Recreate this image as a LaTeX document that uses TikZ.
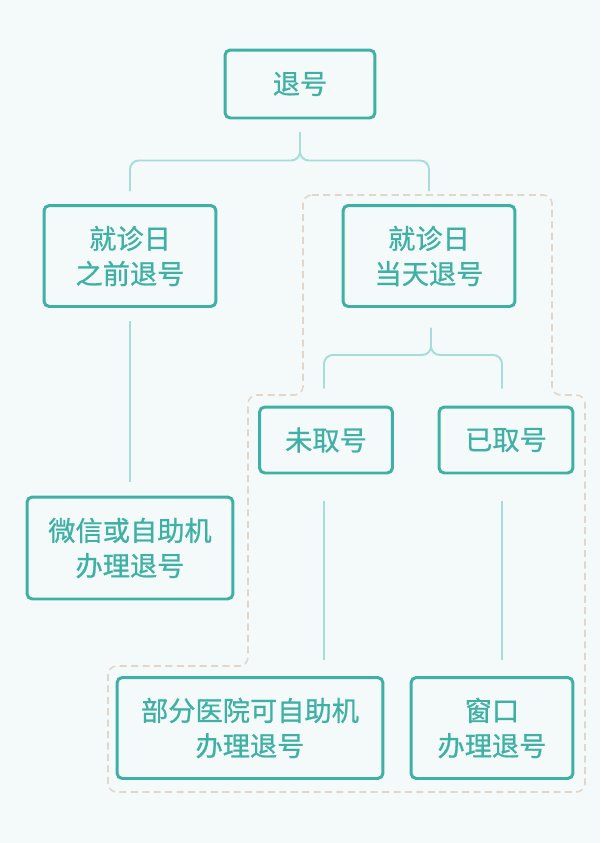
\documentclass[tikz,border=0pt]{standalone}
\usepackage{fontspec}
\setmainfont{Noto Sans CJK SC}[FakeBold=0.8]
\usetikzlibrary{calc}
\definecolor{bgcolor}{RGB}{244,250,250}
\definecolor{tealcolor}{RGB}{63,176,166}
\definecolor{linkcolor}{RGB}{166,221,218}
\definecolor{zonecolor}{RGB}{226,214,202}

\tikzset{
    box/.style={draw=tealcolor, line width=1.7pt, rounded corners=3pt, fill=bgcolor,
        text=tealcolor, align=center, inner sep=0pt,
        font=\fontsize{15.5pt}{20pt}\selectfont},
    link/.style={draw=linkcolor, line width=1.1pt, rounded corners=5pt},
    zone/.style={draw=zonecolor, line width=0.9pt, dash pattern=on 4pt off 2.5pt, rounded corners=5pt}
}

\begin{document}
\begin{tikzpicture}[x=0.02cm,y=-0.02cm]

    % Canvas
    \fill[bgcolor] (0,0) rectangle (600,843);
    \useasboundingbox (0,0) rectangle (600,843);

    % Same-day zone
    \draw[zone] (303,195) -- (552,195) -- (552,395) -- (585,395) -- (585,792)
        -- (108,792) -- (108,666) -- (248,666) -- (248,395) -- (303,395) -- cycle;

    % Boxes
    \node[box, minimum width=3cm, minimum height=1.36cm] at (300,84) (Root) {退号};
    \node[box, minimum width=3.44cm, minimum height=2.02cm] at (130,256) (Before) {就诊日\\之前退号};
    \node[box, minimum width=3.44cm, minimum height=2.02cm] at (429,256) (Today) {就诊日\\当天退号};
    \node[box, minimum width=2.66cm, minimum height=1.32cm] at (326,440) (NotTaken) {未取号};
    \node[box, minimum width=2.68cm, minimum height=1.32cm] at (506,440) (Taken) {已取号};
    \node[box, minimum width=4.12cm, minimum height=2.04cm] at (130,548) (WeChat) {微信或自助机\\办理退号};
    \node[box, minimum width=5.32cm, minimum height=2.02cm] at (250,728) (SelfHelp) {部分医院可自助机\\办理退号};
    \node[box, minimum width=3.24cm, minimum height=2.02cm] at (492,728) (Window) {窗口\\办理退号};

    % Forks
    \draw[link] ($(Root.south)+(0,13)$) -- ++(0,28) -| ($(Before.north)+(0,-13)$);
    \draw[link] ($(Root.south)+(0,13)$) -- ++(0,28) -| ($(Today.north)+(0,-13)$);
    \draw[link] ($(Today.south)+(2,20)$) -- ++(0,27) -| ($(NotTaken.north)+(-2,-17)$);
    \draw[link] ($(Today.south)+(2,20)$) -- ++(0,27) -| ($(Taken.north)+(-4,-17)$);

    % Straight links
    \draw[link] ($(Before.south)+(0,13)$) -- ($(WeChat.north)+(0,-14)$);
    \draw[link] ($(NotTaken.south)+(-2,27)$) -- ($(NotTaken.south |- SelfHelp.north)+(-2,-16)$);
    \draw[link] ($(Taken.south)+(-4,27)$) -- ($(Taken.south |- Window.north)+(-4,-16)$);

\end{tikzpicture}
\end{document}
